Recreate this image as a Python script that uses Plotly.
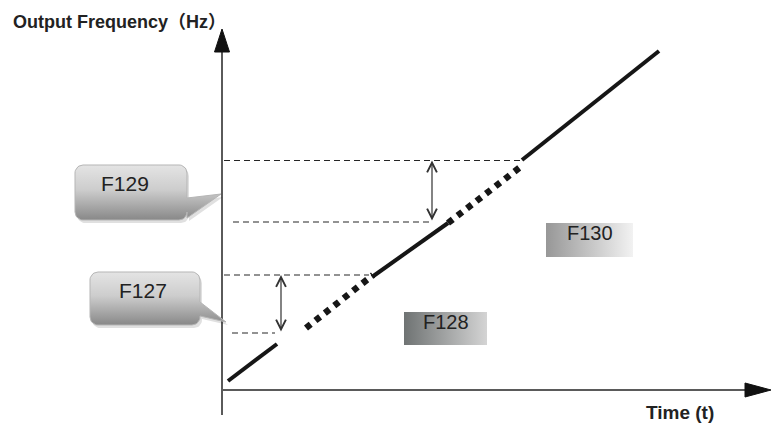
import numpy as np
import plotly.graph_objects as go

# output frequency ramp (t, f); origin at the axes crossing
solid_t = [[6, 55], [150, 226], [300, 437]]
solid_f = [[9, 46], [113, 167], [230, 339]]
skip_t = [[84, 151], [226, 301]]
skip_f = [[62, 115], [167, 225]]

# skip band limits (dashed guides)
level_f = [57, 115, 168, 229.5]
level_t0 = [10, 2, 11, 2]
level_t1 = [53, 147, 210, 300]

# skip band width arrows
band_t = [59, 210]
band_lo = [57, 168]
band_hi = [115, 229.5]

# callouts on the frequency axis
callout_names = ['F129', 'F127']
callout_t = [[-147, -35], [-132, -22]]
callout_f = [[170, 225], [65, 118]]
callout_tail = [[172, 192, -1, 196], [74, 88, 4, 68]]   # lower, upper, tip t, tip f
callout_text = [[-97, 207], [-79, 100]]

# plain boxes
box_names = ['F128', 'F130']
box_t = [[182, 265], [324, 411]]
box_f = [[45, 78], [133, 167]]
box_colors = [['#6f7373', '#d4d4d4'], ['#979797', '#f2f2f2']]

FONT = 'Liberation Sans, Arial, Noto Sans CJK SC, sans-serif'


def callout_path(t0, t1, f0, f1, r, tail=None):
    xs, ys = [], []
    corners = [(t1 - r, f0 + r, -90, 0), (t1 - r, f1 - r, 0, 90),
               (t0 + r, f1 - r, 90, 180), (t0 + r, f0 + r, 180, 270)]
    for i, (cx, cy, a0, a1) in enumerate(corners):
        a = np.radians(np.linspace(a0, a1, 10))
        xs += list(cx + r * np.cos(a))
        ys += list(cy + r * np.sin(a))
        if i == 0 and tail:
            lo, hi, tx, ty = tail
            xs += [t1, tx, t1]
            ys += [lo, ty, hi]
    xs.append(xs[0])
    ys.append(ys[0])
    return xs, ys


fig = go.Figure()

# axes
fig.add_trace(go.Scatter(x=[0, 0], y=[-25, 340], mode='lines',
                         line=dict(color='#5a5a5a', width=2), hoverinfo='skip'))
fig.add_trace(go.Scatter(x=[0, 525], y=[0, 0], mode='lines',
                         line=dict(color='#5a5a5a', width=2), hoverinfo='skip'))
fig.add_trace(go.Scatter(x=[-7.5, 0, 7.5, -7.5], y=[338, 361, 338, 338], fill='toself',
                         fillcolor='#111111', mode='lines', line=dict(color='#111111', width=1),
                         hoverinfo='skip'))
fig.add_trace(go.Scatter(x=[523, 549, 523, 523], y=[7, 0, -7, 7], fill='toself',
                         fillcolor='#111111', mode='lines', line=dict(color='#111111', width=1),
                         hoverinfo='skip'))

# dashed guides
for f, a, b in zip(level_f, level_t0, level_t1):
    fig.add_trace(go.Scatter(x=[a, b], y=[f, f], mode='lines',
                             line=dict(color='#262626', width=1.1, dash='6px,4px'),
                             hoverinfo='skip'))

# ramp
for ts, fs in zip(solid_t, solid_f):
    fig.add_trace(go.Scatter(x=ts, y=fs, mode='lines',
                             line=dict(color='#161616', width=4), hoverinfo='skip'))
for ts, fs in zip(skip_t, skip_f):
    fig.add_trace(go.Scatter(x=ts, y=fs, mode='lines',
                             line=dict(color='#161616', width=6.5, dash='6px,6px'),
                             hoverinfo='skip'))

# callouts
for name, ts, fs, tail, pos in zip(callout_names, callout_t, callout_f, callout_tail, callout_text):
    xs, ys = callout_path(ts[0], ts[1], fs[0], fs[1], 8, tail)
    fig.add_trace(go.Scatter(x=[x + 2 for x in xs], y=[y - 3 for y in ys], fill='toself',
                             fillcolor='rgba(0,0,0,0.12)', mode='lines',
                             line=dict(color='rgba(0,0,0,0)', width=0), hoverinfo='skip'))
    fig.add_trace(go.Scatter(x=xs, y=ys, fill='toself', mode='lines',
                             fillgradient=dict(type='vertical',
                                               colorscale=[[0, '#888888'], [0.55, '#cdcdcd'], [1, '#e4e4e4']]),
                             line=dict(color='#b5b5b5', width=1), hoverinfo='skip'))
    fig.add_annotation(x=pos[0], y=pos[1], text=name, showarrow=False,
                       font=dict(family=FONT, size=21, color='#222222'))

# boxes
for name, ts, fs, cols in zip(box_names, box_t, box_f, box_colors):
    fig.add_trace(go.Scatter(x=[ts[0], ts[1], ts[1], ts[0], ts[0]],
                             y=[fs[0], fs[0], fs[1], fs[1], fs[0]], fill='toself', mode='lines',
                             fillgradient=dict(type='horizontal', colorscale=[[0, cols[0]], [1, cols[1]]]),
                             line=dict(color='rgba(0,0,0,0)', width=0), hoverinfo='skip'))
    fig.add_annotation(x=(ts[0] + ts[1]) / 2, y=fs[1] - 10, text=name, showarrow=False,
                       font=dict(family=FONT, size=20, color='#222222'))

# band width arrows
for t, lo, hi in zip(band_t, band_lo, band_hi):
    fig.add_annotation(x=t, y=hi, ax=t, ay=lo, xref='x', yref='y', axref='x', ayref='y',
                       text='', showarrow=True, arrowhead=5, startarrowhead=5,
                       arrowside='end+start', arrowsize=1.6, arrowwidth=1.2,
                       arrowcolor='#333333', standoff=0, startstandoff=0)

# axis titles
fig.add_annotation(x=-211, y=368, text='<b>Output Frequency（Hz）</b>', showarrow=False,
                   xanchor='left', font=dict(family=FONT, size=18, color='#222222'))
fig.add_annotation(x=422, y=-22, text='<b>Time (t)</b>', showarrow=False,
                   xanchor='left', font=dict(family=FONT, size=19, color='#222222'))

fig.update_layout(
    width=771, height=424,
    margin=dict(l=0, r=0, t=0, b=0),
    paper_bgcolor='white', plot_bgcolor='white',
    showlegend=False,
    xaxis=dict(range=[-222, 549], visible=False, fixedrange=True),
    yaxis=dict(range=[-34, 390], visible=False, fixedrange=True),
)

fig.write_html("out.html", config={'displayModeBar': False},
               post_script="document.body.style.margin='0';")
